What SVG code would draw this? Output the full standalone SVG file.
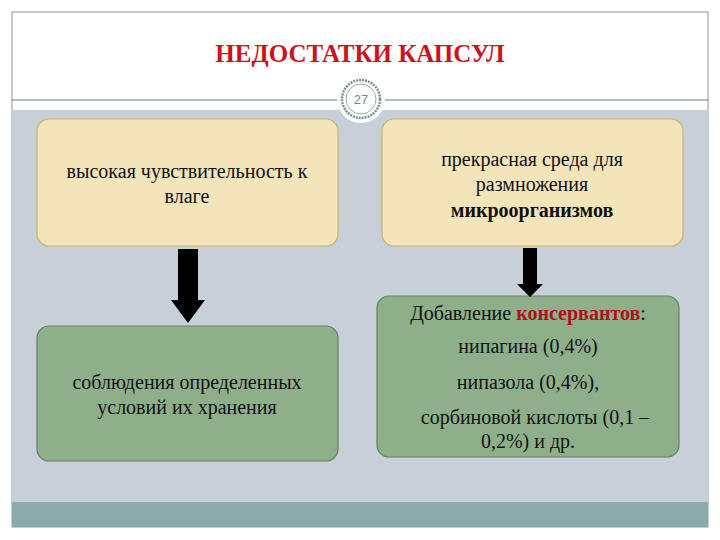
<svg xmlns="http://www.w3.org/2000/svg" width="720" height="540" viewBox="0 0 720 540">
<style>
.t{font-family:'Liberation Serif','Times New Roman','DejaVu Serif',serif;font-size:20px;fill:#111;text-anchor:middle}
.h{font-family:'Liberation Serif','Times New Roman','DejaVu Serif',serif;font-size:25px;font-weight:bold;fill:#d0101a;text-anchor:middle}
.cream{fill:#f3e4b9;stroke:#c9b46a;stroke-width:1.2}
.green{fill:#8db08b;stroke:#6a7f68;stroke-width:1.2}
</style>
<rect x="0" y="0" width="720" height="540" fill="#fff"/>
<rect x="12" y="12" width="696" height="515" fill="#fff" stroke="#8a9a9a" stroke-width="1"/>
<rect x="12" y="110" width="696" height="392" fill="#c7d0d8"/>
<rect x="12" y="502" width="696" height="25" fill="#8aabab"/>
<line x1="12" y1="100" x2="708" y2="100" stroke="#6f7f7f" stroke-width="1.2"/>
<text class="h" x="360" y="62">НЕДОСТАТКИ КАПСУЛ</text>
<g id="pagenum">
<circle cx="361" cy="99" r="24" fill="#fff"/>
<circle cx="361" cy="99" r="19" fill="#fff" stroke="#7a8f8f" stroke-width="2.5" stroke-dasharray="2 1"/>
<circle cx="361" cy="99" r="15" fill="#fff" stroke="#9aaaaa" stroke-width="1"/>
<text x="361" y="104" font-family="'Liberation Sans',sans-serif" font-size="13" fill="#7a8a8a" text-anchor="middle">27</text>
</g>
<g id="n1"><rect class="cream" x="37" y="119" width="301" height="127" rx="12"/>
<text class="t" x="187" y="178">высокая чувствительность к</text><text class="t" x="187" y="203">влаге</text></g>
<g id="n2"><rect class="cream" x="382" y="119" width="301" height="127" rx="12"/>
<text class="t" x="532" y="166">прекрасная среда для</text><text class="t" x="532" y="191">размножения</text><text class="t" x="532" y="217" font-weight="bold">микроорганизмов</text></g>
<g id="n3"><rect class="green" x="37" y="326" width="301" height="135" rx="12"/>
<text class="t" x="187" y="389">соблюдения определенных</text><text class="t" x="187" y="414">условий их хранения</text></g>
<g id="n4"><rect class="green" x="377" y="296" width="302" height="161" rx="12"/>
<text class="t" x="528" y="320">Добавление <tspan font-weight="bold" fill="#b01018">консервантов</tspan>:</text>
<text class="t" x="528" y="353">нипагина (0,4%)</text>
<text class="t" x="528" y="389">нипазола (0,4%),</text>
<text class="t" x="535" y="424">сорбиновой кислоты (0,1 –</text>
<text class="t" x="528" y="448">0,2%) и др.</text></g>
<g id="connectors" fill="#000">
<polygon points="178,249 198,249 198,300 205,300 188,323 171,300 178,300"/>
<polygon points="523,248 537,248 537,284 543,284 530,297 517,284 523,284"/>
</g>
</svg>
